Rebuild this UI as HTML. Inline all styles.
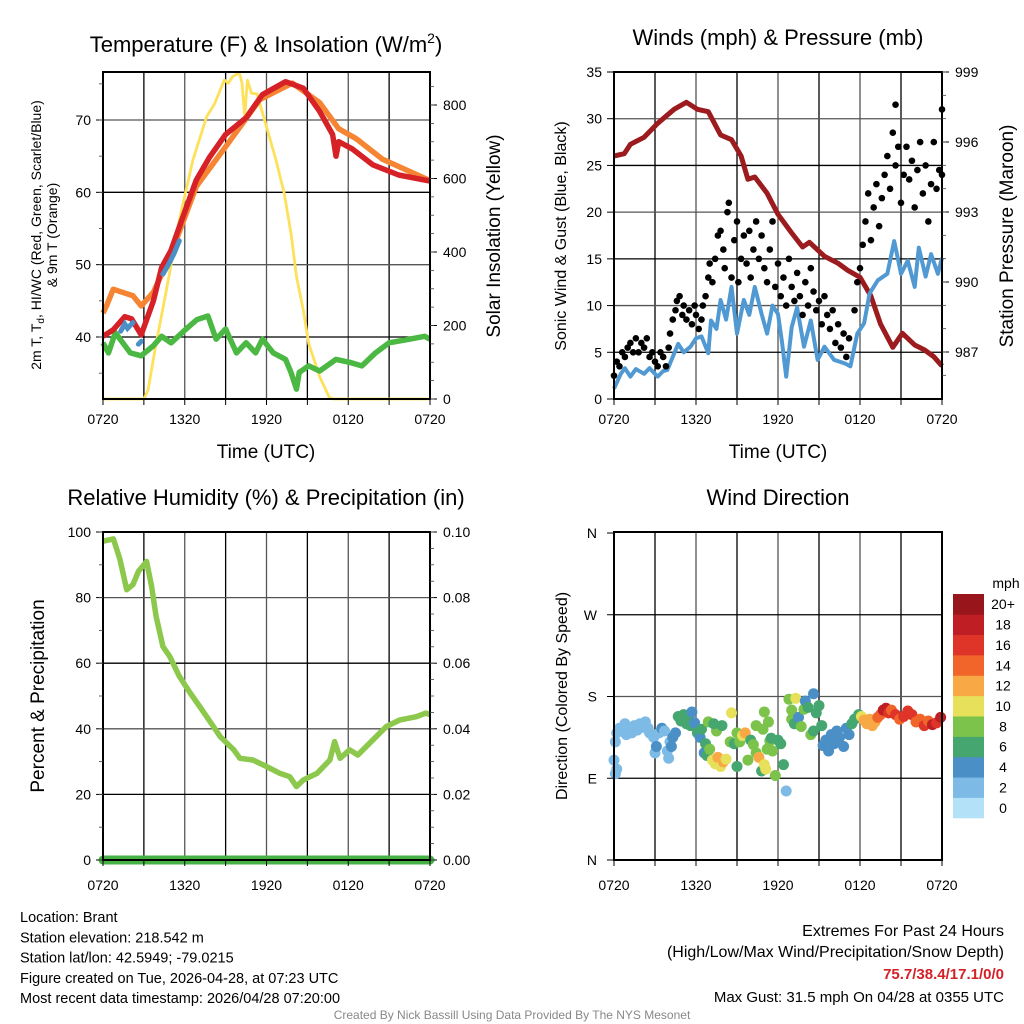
<!DOCTYPE html>
<html><head><meta charset="utf-8">
<style>
html,body{margin:0;padding:0;background:#fff;}
svg{display:block;font-family:"Liberation Sans",sans-serif;}
</style></head>
<body>
<svg id="chart" width="1024" height="1024" viewBox="0 0 1024 1024" xmlns="http://www.w3.org/2000/svg">
</svg>
<script>
// ---------- DATA ----------
const tickLabels = ["0720","1320","1920","0120","0720"];
const tempTicks = [40,50,60,70];
const solarTicks = [0,200,400,600,800];
const windTicks = [0,5,10,15,20,25,30,35];
const presTicks = [987,990,993,996,999];
const rhTicks = [0,20,40,60,80,100];
const precipTicks = ["0.00","0.02","0.04","0.06","0.08","0.10"];
const dirTicks = ["N","E","S","W","N"];

const tempH = [0,0.75,1.6,2.1,2.8,3.7,4.3,5,5.75,6.85,7.8,9,10.5,11.7,13.4,14.7,15.9,16.85,17.1,17.3,18.3,19.8,21.7,23.9,24];
const tempF = [40.1,41,42.8,42.5,40.3,45,49.6,52,56,61.7,64.8,68,70.3,73.5,75.3,74.4,71.2,68,65,67,66,63.8,62.4,61.6,61.6];
const t9H = [0,0.3,0.75,2.2,2.8,3.7,5,6.85,9,11.5,13.9,15.9,17.3,18.6,20.5,23.9,24];
const t9F = [43.3,44.5,46.6,45.7,44.3,46.2,51.5,60.8,66.3,72.8,75.1,72.4,68.8,67.4,64.6,61.7,61.7];
const hiSegH = [[1.3,1.6,1.8,2.2],[2.6,2.8],[4.4,4.8,5.2,5.6]];
const hiSegF = [[40.8,41.8,41.2,42],[39,39.4],[48.7,50,51.5,53.3]];
const dewH = [0,0.4,0.9,2,2.8,3.7,4.3,5,6.1,6.9,7.7,8.3,9,9.8,10.5,11.2,11.7,12.5,13.4,13.8,14.2,14.4,15.1,15.9,17.1,18.1,19,20,21,22.5,23.6,24];
const dewF = [39.2,37.8,40.6,37.8,37.4,38.8,40.1,39.2,41.1,42.4,42.9,39.7,41.1,37.8,39.2,37.8,39.7,37.8,36.9,35.1,32.8,35.1,36,35.3,36.9,36.5,36,37.8,39.2,39.7,40.1,39.7];
const solH = [0,3,3.3,3.9,4.7,5.6,6.6,7.6,8.2,8.9,9.2,9.5,10,10.2,10.4,10.6,10.9,11.3,12,12.7,13.3,13.8,14.2,14.7,15.1,15.9,16.6,16.9,24];
const solW = [0,0,24,151,305,487,650,768,804,868,859,877,888,860,768,868,832,830,741,650,560,451,333,242,151,61,5,0,0];

const presH = [0,0.75,1.2,2.2,3.2,4.4,5.3,6.1,6.9,7.8,8.6,9.3,9.8,10.3,11.2,12,13,13.8,14.3,15.4,16.4,17.1,18,18.8,19.5,20.4,21.1,22,22.7,23.4,24];
const presMb = [995.4,995.5,995.9,996.2,996.8,997.4,997.7,997.4,997.3,996.3,996.1,995.4,994.4,994.5,993.8,992.9,992.1,991.5,991.7,991.1,990.8,990.5,990.2,989.4,988.2,987.2,987.8,987.3,987.1,986.8,986.4];
const windH = [0,0.5,0.8,1.2,1.6,2.2,2.6,3.2,3.6,3.9,4.7,5.1,5.6,6,6.4,6.9,7.1,7.5,7.8,8.2,8.6,9,9.5,9.9,10.3,10.8,11.2,11.6,12,12.3,12.6,13,13.4,13.9,14.4,14.9,15.4,16.1,16.9,17.3,17.8,18.3,18.7,19.3,20,20.5,21,21.5,22,22.3,22.8,23.2,23.7,24];
const windV = [1.1,2.7,3.3,2.4,3.2,2.7,3.3,2.4,3,3.1,5.9,5,5.6,6.5,6.7,4.9,8.4,7.5,10.6,8.5,12,7,10.6,9,12,9.1,7,10,9.1,6,2.4,7.7,9.8,5.6,8.4,4.2,5.6,4.2,3.8,3.5,7,8.1,11.3,12.7,13.4,16.9,13.4,14.8,12,16.2,13.1,15.5,13.4,15.1];
const gustH = [0,0.2,0.4,0.6,0.8,1,1.2,1.4,1.6,1.8,2,2.2,2.4,2.6,2.8,3,3.2,3.4,3.6,3.8,4,4.1,4.3,4.5,4.6,4.8,5,5.1,5.3,5.5,5.7,5.9,6,6.2,6.4,6.5,6.7,6.9,7,7.2,7.4,7.6,7.8,8,8.1,8.3,8.4,8.6,8.8,9,9.1,9.3,9.5,9.7,9.9,10,10.2,10.4,10.6,10.8,11,11.2,11.4,11.6,11.8,12,12.2,12.4,12.6,12.8,13,13.2,13.4,13.6,13.8,14,14.2,14.4,14.6,14.8,15,15.2,15.4,15.6,15.8,16,16.2,16.4,16.6,16.8,17,17.2,17.6,17.8,18,18.2,18.4,18.6,18.8,19,19.2,19.4,19.6,19.8,20,20.2,20.4,20.6,20.6,20.8,21,21.2,21.4,21.6,21.8,22,22.2,22.4,22.6,22.8,23,23.2,23.4,23.6,23.8,24,24];
const gustV = [2.5,4,3.5,5,4.5,5.5,6,5,6.5,5,6,5.5,6.5,4.5,5,4,3.5,5,4.5,3.5,5.5,7,8.5,9.5,10.5,11,9,10,8.5,9.5,8,10,9,7.5,8.5,10,11,13,14.5,12.5,15,17.5,18,16,14,20,21,13,17,19,12.5,15,17.5,14.5,18,13,16,19,15,17.5,14,12.5,16,19,12,14.5,11,13,10,15,12,10.5,13.5,11,9,12.5,10,14,11.5,9.5,10.5,8,11,9,7.5,9.5,6,8,5.5,7,4.5,6.5,9.5,12.5,14,16.5,19,22,17,20.5,23,18.5,21.5,24,26,22.5,28.5,25,31.5,27,21,24,27,23.5,25.5,20.5,24.5,27.5,22,25,19,23,27.5,22.5,24.5,24,31];

const rhH = [0,0.76,1.25,1.74,2.2,2.6,3.2,3.57,3.9,4.4,4.9,5.6,6.4,7.1,8.1,8.6,9.6,10.05,11,12,13,13.7,14.2,14.7,15.7,16.65,17,17.4,18.1,18.7,19.8,20.8,21.8,23,23.7,24];
const rhV = [97.2,97.9,91.6,82.4,84,88,91,83.4,74.3,65.1,62,56,50.9,46.8,40.7,37.6,33.6,31,30.5,28.5,26.4,25.4,22.4,24.4,26.4,30.5,36.1,31,33.6,32,36.6,40.7,42.7,43.7,44.8,44.3];
const precipH = [0,24];
const precipV = [0,0];

const dirH = [0,0.1,0.2,0.1,0.2,0.4,0.6,0.8,0.9,1.1,1.3,1.5,1.7,1.9,2.1,2.3,2.5,2.6,2.9,3,3.1,3.3,3.5,3.7,3.9,4,4.1,4.2,4.3,4.5,4.7,4.9,5.1,5.3,5.5,5.6,5.7,5.9,6.1,6.3,6.4,6.6,6.7,6.8,7,7.2,7.4,7.6,7.8,8,8.2,8.5,8.8,9,9,8.6,7.5,7.9,6.9,7.3,9.2,9.4,9.6,9.8,10,10.2,10.4,10.6,10.8,11,11.1,11.2,11.4,11.5,11.6,11.8,11,11.3,10.9,10.4,12,12.2,12.4,12.6,12.8,13,13,13.2,13.3,13.5,13.7,13.9,14,14.2,14.4,14.6,14.6,14.8,15,15.2,15.3,15.5,15.7,15.9,16.1,16.3,16.5,16.8,17,17.2,17.4,17.6,17.9,18.1,18.3,18.5,18.7,18.9,19.1,19.3,19.5,19.7,19.9,20.1,20.3,20.6,20.9,21.2,21.5,21.8,22.1,22.4,22.7,23,23.3,23.6,23.9];
const dirDeg = [110,95,100,130,140,145,142,150,138,146,140,148,143,150,146,152,145,140,135,118,125,140,145,142,120,112,130,125,135,140,158,153,160,150,155,148,163,151,140,135,144,118,128,115,122,110,106,113,103,108,111,130,128,103,140,162,142,148,152,150,130,137,140,110,132,127,118,113,98,105,100,122,131,134,120,93,163,152,144,148,132,128,105,76,177,155,165,150,178,157,147,166,175,168,138,142,183,162,170,148,126,132,120,138,128,142,135,125,145,138,150,155,160,158,154,150,155,148,152,157,160,165,167,162,165,160,155,158,164,160,152,155,148,153,149,151,157];
const dirSpd = [2,2,2,1.5,2,2,2,2.5,2,2,2.5,2,2.5,2.5,2,2.5,2,2.5,2.5,2,3,2,3,2.5,2,2,2.5,3,4,4,6,6,6.5,6,6,6,4,4.5,5,4,6,4,5,6,7,9,10,11,10,12,9,7,6,6,8,10,8,6,8,6,8,9,11,8,6,7,8,12,6,10,9,8,8,6,7,8,7,8,8,7,5,6,6,2,8,8,7,6,10,4,8,8,4,5,7,6,4,5,6,6,4,4,4,4,4,4,4,3,4,4,6,6,6,10,12,12,12,11,12,13,14,17,17,15,14,15,14,15,16,15,14,13,15,14,17,15,17];
const speedLabels = ["0","2","4","6","8","10","12","14","16","18","20+"];
const speedColors = ["#b3e1f7","#7dbbe6","#4a8fc6","#46a66f","#7bc34a","#e7e05a","#f8a945","#f1642a","#de3528","#bf1e24","#98161b"];

// ---------- HELPERS ----------
const NS = "http://www.w3.org/2000/svg";
const svg = document.getElementById("chart");
function mk(tag, attrs, parent, text){
  const e = document.createElementNS(NS, tag);
  for (const k in attrs) e.setAttribute(k, attrs[k]);
  if (text !== undefined) e.textContent = text;
  (parent || svg).appendChild(e);
  return e;
}
function grp(name){
  const g = mk("g", {});
  
  
  return g;
}
function linScale(d0,d1,r0,r1){ return v => r0 + (v-d0)/(d1-d0)*(r1-r0); }
function pathFrom(xs, ys, sx, sy){
  return xs.map((h,i)=>(i?"L":"M")+sx(h).toFixed(1)+","+sy(ys[i]).toFixed(1)).join(" ");
}

function frame(name, L, T, R, B, g){
  const sx = linScale(0,24,L,R);
  for (let h=3; h<24; h+=3){
    const l = mk("line",{x1:sx(h),x2:sx(h),y1:T,y2:B,stroke:(h%6===0)?"#555":"#000","stroke-width":1.3},g);
    
    
  }
  return sx;
}
function border(L,T,R,B,g){
  const r = mk("rect",{x:L,y:T,width:R-L,height:B-T,fill:"none",stroke:"#000","stroke-width":2},g);
  
  
}
function xTicks(sx,B,g,ly){
  for (let h=0; h<=24; h+=3){
    mk("line",{x1:sx(h),x2:sx(h),y1:B,y2:B+6,stroke:"#000","stroke-width":1},g);
  }
  tickLabels.forEach((t,i)=>{
    const e = mk("text",{x:sx(i*6),y:ly,"font-size":14,"text-anchor":"middle",fill:"#000"},g,t);
    
    
  });
}
function hGrid(vals, sy, L, R, g){
  vals.forEach((v,i)=>{
    const l = mk("line",{x1:L,x2:R,y1:sy(v),y2:sy(v),stroke:(i%2)?"#555":"#000","stroke-width":1.3},g);
    
    
  });
}
function yLabelsLeft(vals, labels, sy, L, g){
  vals.forEach((v,i)=>{
    mk("line",{x1:L-7,x2:L,y1:sy(v),y2:sy(v),stroke:"#000","stroke-width":1},g);
    const e = mk("text",{x:L-12,y:sy(v)+5,"font-size":14,"text-anchor":"end"},g,labels[i]);
    
    
  });
}
function yLabelsRight(vals, labels, sy, R, g){
  vals.forEach((v,i)=>{
    mk("line",{x1:R,x2:R+7,y1:sy(v),y2:sy(v),stroke:"#000","stroke-width":1},g);
    const e = mk("text",{x:R+13,y:sy(v)+5,"font-size":14,"text-anchor":"start"},g,labels[i]);
    
    
  });
}
function minorTicks(v0,v1,step,sy,x,dir,g){
  for (let v=v0; v<=v1+1e-9; v+=step){
    mk("line",{x1:x,x2:x+dir*4,y1:sy(v),y2:sy(v),stroke:"#444","stroke-width":0.8},g);
  }
}
function title(text,x,y,g,size){
  const e = mk("text",{x:x,y:y,"font-size":size||22,"text-anchor":"middle"},g,text);
  
  
  return e;
}
function vText(text,x,y,size,g,name){
  const e = mk("text",{x:0,y:0,"font-size":size,"text-anchor":"middle",transform:`translate(${x},${y}) rotate(-90)`},g,text);
  
  
  return e;
}

// ---------- PANEL 1: Temperature ----------
(function(){
  const g = grp("temperature-panel");
  const L=103,T=72,R=430,B=399;
  const sx = frame("temp",L,T,R,B,g);
  const sy = linScale(40,70,337,120);
  const sy2 = linScale(0,800,399,105);
  hGrid(tempTicks, sy, L, R, g);
  const sol = mk("path",{d:pathFrom(solH,solW,sx,sy2),fill:"none",stroke:"#fde15a","stroke-width":2.8,"stroke-linejoin":"round"},g);
  
  
  const dp = mk("path",{d:pathFrom(dewH,dewF,sx,sy),fill:"none",stroke:"#4bb844","stroke-width":5.5,"stroke-linejoin":"round"},g);
  
  
  const t9 = mk("path",{d:pathFrom(t9H,t9F,sx,sy),fill:"none",stroke:"#f58533","stroke-width":5.5,"stroke-linejoin":"round"},g);
  
  
  const t2 = mk("path",{d:pathFrom(tempH,tempF,sx,sy),fill:"none",stroke:"#d62127","stroke-width":5.5,"stroke-linejoin":"round"},g);
  
  
  hiSegH.forEach((hs,i)=>{
    const s = mk("path",{d:pathFrom(hs,hiSegF[i],sx,sy),fill:"none",stroke:"#4a8fc6","stroke-width":5,"stroke-linecap":"round"},g);
    
    
  });
  border(L,T,R,B,g);
  yLabelsLeft(tempTicks, tempTicks.map(String), sy, L, g);
  minorTicks(35,75,5,sy,L,-1,g);
  yLabelsRight(solarTicks, solarTicks.map(String), sy2, R, g);
  minorTicks(0,850,50,sy2,R,1,g);
  xTicks(sx,B,g,424);
  const t = mk("text",{x:266,y:52,"font-size":22,"text-anchor":"middle"},g);
  
  
  t.textContent = "Temperature (F) & Insolation (W/m";
  mk("tspan",{dy:-9,"font-size":14},t,"2");
  mk("tspan",{dy:9},t,")");
  const xt = mk("text",{x:266,y:458,"font-size":19,"text-anchor":"middle"},g,"Time (UTC)");
  
  
  const yl = mk("text",{x:0,y:0,"font-size":14,"text-anchor":"middle",transform:"translate(41,235) rotate(-90)"},g);
  
  
  yl.appendChild(document.createTextNode("2m T, T"));
  mk("tspan",{dy:3,"font-size":10},yl,"d");
  mk("tspan",{dy:-3},yl,", HI/WC (Red, Green, Scarlet/Blue)");
  vText("& 9m T (Orange)",57,235,14,g,"y-axis-title-line2");
  vText("Solar Insolation (Yellow)",500,236,19,g,"y2-axis-title");
})();

// ---------- PANEL 2: Winds ----------
(function(){
  const g = grp("winds-panel");
  const L=614,T=72,R=942,B=399;
  const sx = frame("wind",L,T,R,B,g);
  const sy = linScale(0,35,399,72);
  const sy2 = linScale(987,999,352,72);
  hGrid(windTicks.slice(1), sy, L, R, g);
  const pr = mk("path",{d:pathFrom(presH,presMb,sx,sy2),fill:"none",stroke:"#9b1b1e","stroke-width":5,"stroke-linejoin":"round"},g);
  
  
  const wl = mk("path",{d:pathFrom(windH,windV,sx,sy),fill:"none",stroke:"#5199d2","stroke-width":4,"stroke-linejoin":"round"},g);
  
  
  gustH.forEach((h,i)=>{
    const c = mk("circle",{cx:sx(h),cy:sy(gustV[i]),r:3.3,fill:"#000"},g);
    
    
  });
  border(L,T,R,B,g);
  yLabelsLeft(windTicks, windTicks.map(String), sy, L, g);
  yLabelsRight(presTicks, presTicks.map(String), sy2, R, g);
  minorTicks(986,999,1,sy2,R,1,g);
  xTicks(sx,B,g,424);
  title("Winds (mph) & Pressure (mb)",778,45,g,22);
  const xt = mk("text",{x:778,y:458,"font-size":19,"text-anchor":"middle"},g,"Time (UTC)");
  
  
  vText("Sonic Wind & Gust (Blue, Black)",566,236,16,g,"y-axis-title");
  vText("Station Pressure (Maroon)",1013,236,19,g,"y2-axis-title");
})();

// ---------- PANEL 3: RH ----------
(function(){
  const g = grp("humidity-panel");
  const L=103,T=532,R=430,B=860;
  const sx = frame("rh",L,T,R,B,g);
  const sy = linScale(0,100,860,532);
  hGrid(rhTicks.slice(1), sy, L, R, g);
  const rl = mk("path",{d:pathFrom(rhH,rhV,sx,sy),fill:"none",stroke:"#8cc84b","stroke-width":5.5,"stroke-linejoin":"round"},g);
  
  
  const sp = linScale(0,0.1,860,532);
  const pl = mk("path",{d:pathFrom(precipH,precipV,sx,sp),fill:"none",stroke:"#45b144","stroke-width":9,"stroke-linecap":"round"},g);
  
  
  border(L,T,R,B,g);
  yLabelsLeft(rhTicks, rhTicks.map(String), sy, L, g);
  minorTicks(0,100,10,sy,L,-1,g);
  yLabelsRight(rhTicks, precipTicks, sy, R, g);
  minorTicks(0,100,5,sy,R,1,g);
  xTicks(sx,B,g,890);
  title("Relative Humidity (%) & Precipitation (in)",266,505,g,22);
  vText("Percent & Precipitation",44,696,19,g,"y-axis-title");
})();

// ---------- PANEL 4: Wind Direction ----------
(function(){
  const g = grp("wind-direction-panel");
  const L=614,T=532,R=942,B=860;
  const sx = frame("dir",L,T,R,B,g);
  const sy = linScale(0,360,860,533);
  hGrid([90,180,270], sy, L, R, g);
  dirH.forEach((h,i)=>{
    const idx = Math.min(10, Math.round(dirSpd[i]/2));
    const c = mk("circle",{cx:sx(h),cy:sy(dirDeg[i]),r:5.5,fill:speedColors[idx]},g);
    
    
  });
  border(L,T,R,B,g);
  dirTicks.forEach((t,i)=>{
    const v=i*90;
    mk("line",{x1:L-7,x2:L,y1:sy(v),y2:sy(v),stroke:"#000","stroke-width":1},g);
    const e = mk("text",{x:L-17,y:sy(v)+5,"font-size":14,"text-anchor":"end"},g,t);
    
    
  });
  xTicks(sx,B,g,890);
  title("Wind Direction",778,505,g,22);
  vText("Direction (Colored By Speed)",567,696,16,g,"y-axis-title");
  const cb = grp("speed-colorbar");
  const boxH = 224/11;
  speedColors.forEach((c,i)=>{
    const y = 818 - (i+1)*boxH;
    const r = mk("rect",{x:953,y:y,width:31,height:boxH+0.3,fill:c},cb);
    
    
    const t = mk("text",{x:1003,y:y+boxH/2+5,"font-size":14,"text-anchor":"middle"},cb,speedLabels[i]);
    
    
  });
  const u = mk("text",{x:1006,y:588,"font-size":14,"text-anchor":"middle"},cb,"mph");
  
  
})();

// ---------- FOOTER TEXT ----------
(function(){
  const g = grp("station-info");
  const lines = ["Location: Brant","Station elevation: 218.542 m","Station lat/lon: 42.5949; -79.0215","Figure created on Tue, 2026-04-28, at 07:23 UTC","Most recent data timestamp: 2026/04/28 07:20:00"];
  lines.forEach((s,i)=>{
    const t = mk("text",{x:20,y:922+i*20.3,"font-size":14.5},g,s);
    
    
  });
  const g2 = grp("extremes-info");
  const a = mk("text",{x:1004,y:936,"font-size":16,"text-anchor":"end"},g2,"Extremes For Past 24 Hours");
  
  
  const b = mk("text",{x:1004,y:957,"font-size":16,"text-anchor":"end"},g2,"(High/Low/Max Wind/Precipitation/Snow Depth)");
  
  
  const c = mk("text",{x:1004,y:979,"font-size":15,"font-weight":"bold","text-anchor":"end",fill:"#d42027"},g2,"75.7/38.4/17.1/0/0");
  
  
  const d = mk("text",{x:1004,y:1002,"font-size":15,"text-anchor":"end"},g2,"Max Gust: 31.5 mph On 04/28 at 0355 UTC");
  
  
  const e = mk("text",{x:512,y:1019,"font-size":12,"text-anchor":"middle",fill:"#888"},svg,"Created By Nick Bassill Using Data Provided By The NYS Mesonet");
  
  
})();
</script>
</body></html>
